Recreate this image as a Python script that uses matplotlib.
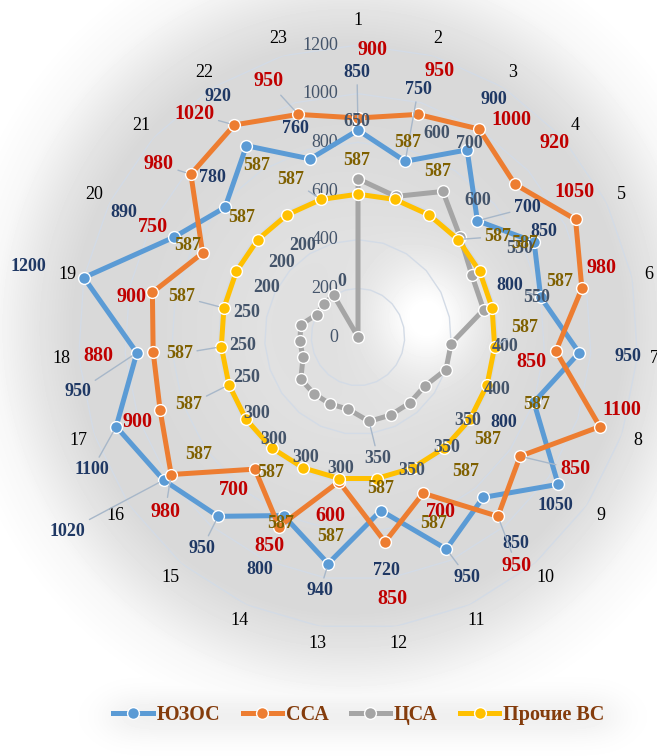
import numpy as np
import matplotlib
matplotlib.use("Agg")
import matplotlib.pyplot as plt
from matplotlib.lines import Line2D

# ---- data -------------------------------------------------------------
categories = [str(i) for i in range(1, 24)]
series_names = ["ЮЗОС", "ССА", "ЦСА", "Прочие ВС"]

yuzos = [850, 750, 900, 700, 850, 800, 950, 800, 1050, 850, 950, 720,
         940, 800, 950, 1020, 1100, 950, 1200, 890, 780, 920, 760]
ssa = [900, 950, 1000, 920, 1050, 980, 850, 1100, 850, 950, 700, 850,
       600, 850, 700, 980, 900, 880, 900, 750, 980, 1020, 950]
tsa = [650, 600, 700, 600, 550, 550, 400, 400, 350, 350, 350, 350,
       300, 300, 300, 300, 250, 250, 250, 200, 200, 200, 0]
other = [587, 587, 587, 587, 587, 587, 587, 587, 587, 587, 587, 587,
         587, 587, 587, 587, 587, 587, 587, 587, 587, 587, 587]

radial_ticks = [0, 200, 400, 600, 800, 1000, 1200]

# ---- styling ------------------------------------------------------------
line_colors = ["#5B9BD5", "#ED7D31", "#A5A5A5", "#FFC000"]
label_colors = ["#1F3864", "#C00000", "#44546A", "#7F6000"]
label_sizes = [13, 14.5, 13, 13]
SERIF = "Liberation Serif"

# data-label offsets in pixels (x right, y up) from each point
offsets_yuzos = [(-1, 58), (13, 72), (27, 50), (50, 13), (10, 10), (-31, 12),
                 (49, -4), (-30, -20), (-3, -21), (33, -46), (21, -28), (6, -60),
                 (-8, -27), (-24, -54), (-16, -32), (-96, -51), (-24, -43),
                 (-59, -39), (-55, 11), (-50, 25), (-13, 30), (-29, 49), (-15, 30)]
offsets_ssa = [(14, 68), (22, 43), (32, 9), (40, 41), (-1, 27), (20, 20),
               (-24, -11), (22, 17), (55, -13), (19, -50), (18, -19), (7, -57),
               (-9, -34), (-10, -19), (-21, -21), (-6, -37), (-23, -12),
               (-55, -4), (-21, -5), (-50, 26), (-32, 10), (-40, 11), (-30, 33)]
offsets_tsa = [(-1, 57), (41, 63), (27, 48), (17, 37), (48, 27), (53, 12),
               (54, -3), (51, -20), (43, -34), (37, -44), (21, -55), (9, -37),
               (-8, -59), (-24, -54), (-40, -46), (-44, -34), (-56, -20),
               (-57, -4), (-54, 12), (-50, 27), (-42, 41), (-31, 50), (-16, 55)]
offsets_other = [(-1, 34), (13, 57), (9, 43), (40, 3), (45, 28), (68, 26),
                 (30, 19), (50, -20), (18, -20), (21, -24), (21, -55), (4, -10),
                 (-9, -58), (-23, -55), (-1, -25), (-47, -35), (-40, -20),
                 (-42, -7), (-42, 11), (-49, 26), (-16, 22), (-30, 49), (-30, 20)]
leaders = [{1, 2, 4, 6, 11, 13, 15, 16, 17, 18},
           {9, 10, 16, 21, 22, 23},
           {12},
           {4, 7, 17, 18, 19, 23}]

W, H = 657, 756
fig = plt.figure(figsize=(W / 100, H / 100), dpi=100)

# soft grey glow behind the plot area and the legend
bg = fig.add_axes([0, 0, 1, 1], zorder=-5)
yy, xx = np.mgrid[0:H, 0:W].astype(float)
d = np.hypot((xx - 348) / 290.0, (yy - 328) / 300.0)
shade = np.interp(d, [0, 0.3, 0.7, 0.95, 1.08, 1.22, 1.38],
                  [0.87, 0.88, 0.85, 0.85, 0.90, 0.97, 1.0])
shade += 0.13 * np.exp(-((xx - 425) ** 2 + (yy - 318) ** 2) / (2 * 38.0 ** 2))
band_x = 1 / (1 + np.exp(-(xx - 110) / 12)) * 1 / (1 + np.exp((xx - 615) / 12))
band = np.exp(-((yy - 716) / 24.0) ** 2) * band_x
shade = np.minimum(shade, 1 - 0.06 * band)
shade = np.clip(shade, 0, 1)
bg.imshow(shade, cmap="gray", vmin=0, vmax=1, extent=[0, W, H, 0],
          aspect="auto", interpolation="bilinear")
bg.axis("off")

# radar axes
ax = fig.add_axes([78 / W, (H - 629) / H, 560 / W, 584 / H], projection="polar")
ax.set_aspect("auto")
ax.set_theta_zero_location("N")
ax.set_theta_direction(-1)
ax.set_ylim(0, 1200)
ax.grid(False)
ax.set_xticks([])
ax.set_yticks([])
ax.spines["polar"].set_visible(False)
ax.patch.set_alpha(0)

n = len(categories)
theta = np.arange(n) * 2 * np.pi / n
theta_c = np.append(theta, theta[0])

# polygon grid rings
for r in radial_ticks[1:]:
    ax.plot(theta_c, np.full(n + 1, r), color="#D3DBE6", lw=1.0, zorder=1)

# radial value labels along the first spoke
for r in radial_ticks:
    ax.annotate(str(r), xy=(0, r), xytext=(-20, 0), textcoords="offset pixels",
                ha="right", va="center", fontsize=13, color="#44546A",
                family=SERIF, annotation_clip=False, zorder=2)

# category labels
for t, c in zip(theta, categories):
    rr = 1300 if c == "1" else 1272
    ax.text(t, rr, c, ha="center", va="center", fontsize=13, color="black",
            family=SERIF, clip_on=False)

all_series = [yuzos, ssa, tsa, other]
all_offsets = [offsets_yuzos, offsets_ssa, offsets_tsa, offsets_other]
for k, (vals, name) in enumerate(zip(all_series, series_names)):
    v = np.append(vals, vals[0])
    ax.plot(theta_c, v, color=line_colors[k], lw=3.6, marker="o", ms=8.5,
            mfc=line_colors[k], mec="white", mew=1.0, clip_on=False,
            zorder=3 + k, label=name, solid_capstyle="round")

for k, vals in enumerate(all_series):
    for i, (t, val) in enumerate(zip(theta, vals)):
        dx, dy = all_offsets[k][i]
        ap = None
        if (i + 1) in leaders[k]:
            ap = dict(arrowstyle="-", color="#A7B7C9", lw=1.0, shrinkA=1, shrinkB=4)
        ax.annotate(str(val), xy=(t, val), xytext=(dx, dy),
                    textcoords="offset pixels", ha="center", va="center",
                    fontsize=label_sizes[k], fontweight="bold",
                    color=label_colors[k], family=SERIF, zorder=20,
                    annotation_clip=False, arrowprops=ap)

# legend
leg_handles = [Line2D([], [], color=line_colors[k], lw=3.6, marker="o", ms=8.5,
                      mfc=line_colors[k], mec="white", mew=1.0)
               for k in range(4)]
leg = fig.legend(leg_handles, series_names, loc="center",
                 bbox_to_anchor=(359 / W, 1 - 715 / H), ncol=4, frameon=False,
                 handlelength=1.95, handletextpad=0.2, columnspacing=1.1,
                 numpoints=1, prop=dict(family=SERIF, weight="bold", size=14.5))
for txt in leg.get_texts():
    txt.set_color("#843C0C")

fig.savefig("out.png", dpi=100)
